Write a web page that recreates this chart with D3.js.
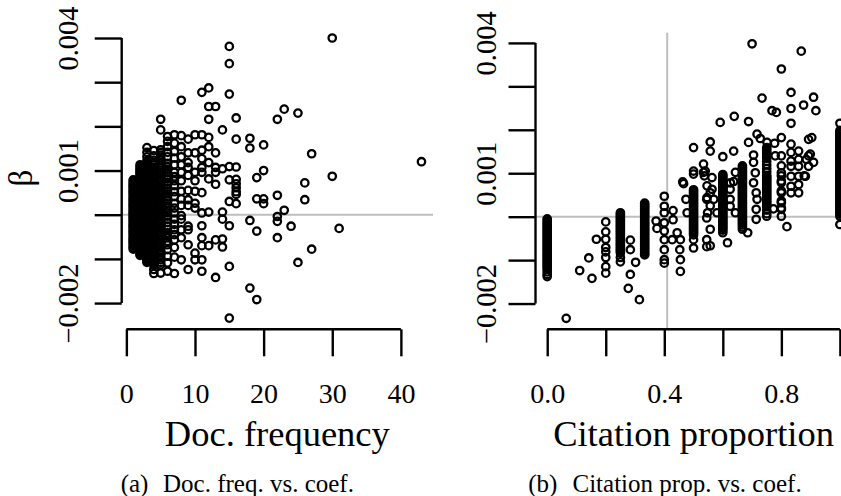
<!DOCTYPE html>
<html>
<head>
<meta charset="utf-8">
<script src="https://cdn.jsdelivr.net/npm/d3@7"></script>
<style>
  html, body { margin: 0; padding: 0; background: #fff; }
  svg { display: block; }
  text { font-family: "Liberation Serif", "Times New Roman", serif; fill: #000; }
</style>
</head>
<body>
<div id="chart"></div>
<script>
// β values in units of 0.001 (scaled by 1e-3 when drawn)

// (a) doc. frequency: [frequency, [β ...]]
const docFreqColumns = [
  [1, [0.79, 0.75, 0.71, 0.67, 0.64, 0.6, 0.56, 0.52, 0.49, 0.45, 0.41, 0.37, 0.34, 0.3, 0.26, 0.22, 0.19, 0.15, 0.11, 0.07, 0.04, 0.0,
       -0.04, -0.08, -0.11, -0.15, -0.19, -0.23, -0.26, -0.3, -0.34, -0.38, -0.41, -0.45, -0.49, -0.53, -0.56, -0.6, -0.63, -0.67, -0.71, -0.75, -0.78]],
  [2, [1.13, 1.09, 1.05, 1.01, 0.98, 0.94, 0.9, 0.86, 0.82, 0.78, 0.75, 0.71, 0.67, 0.63, 0.59, 0.55, 0.52, 0.48, 0.44, 0.4, 0.36, 0.32,
       0.29, 0.25, 0.21, 0.17, 0.13, 0.09, 0.06, 0.02, -0.02, -0.06, -0.1, -0.14, -0.17, -0.21, -0.25, -0.29, -0.33, -0.37, -0.4, -0.44,
       -0.48, -0.52, -0.56, -0.6, -0.63, -0.67, -0.71, -0.75, -0.79, -0.83, -0.86, -0.9, -0.92]],
  [3, [1.52, 1.41, 1.31, 1.22, 1.18, 1.14, 1.1, 1.06, 1.02, 0.98, 0.94, 0.9, 0.86, 0.82, 0.78, 0.74, 0.7, 0.66, 0.62, 0.58, 0.54, 0.5,
       0.46, 0.42, 0.38, 0.34, 0.3, 0.26, 0.22, 0.18, 0.14, 0.1, 0.06, 0.02, -0.02, -0.06, -0.1, -0.14, -0.18, -0.22, -0.26, -0.3, -0.34,
       -0.38, -0.42, -0.46, -0.5, -0.54, -0.58, -0.62, -0.66, -0.7, -0.74, -0.78, -0.82, -0.86, -0.9, -0.94, -0.98, -1.01, -1.05, -1.08]],
  [4, [1.45, 1.33, 1.23, 1.18, 1.13, 1.08, 1.04, 0.99, 0.95, 0.91, 0.87, 0.83, 0.79, 0.75, 0.71, 0.67, 0.63, 0.59, 0.55, 0.51, 0.47,
       0.43, 0.39, 0.35, 0.31, 0.27, 0.23, 0.19, 0.15, 0.11, 0.07, 0.03, -0.01, -0.05, -0.09, -0.13, -0.17, -0.21, -0.25, -0.29, -0.33,
       -0.37, -0.41, -0.45, -0.49, -0.53, -0.57, -0.61, -0.65, -0.69, -0.73, -0.77, -0.81, -0.85, -0.89, -0.93, -0.97, -1.01, -1.05,
       -1.1, -1.14, -1.24, -1.33]],
  [5, [2.16, 1.92, 1.47, 1.41, 1.35, 1.29, 1.23, 1.17, 1.12, 1.06, 1.01, 0.95, 0.9, 0.85, 0.8, 0.75, 0.7, 0.65, 0.6, 0.55, 0.5, 0.45,
       0.4, 0.35, 0.3, 0.25, 0.2, 0.15, 0.1, 0.05, 0.0, -0.05, -0.1, -0.15, -0.2, -0.25, -0.3, -0.35, -0.4, -0.45, -0.5, -0.55, -0.6,
       -0.65, -0.7, -0.75, -0.8, -0.86, -0.91, -0.97, -1.02, -1.08, -1.13, -1.32]],
  [6, [1.77, 1.66, 1.54, 1.41, 1.31, 1.16, 1.09, 1.03, 0.96, 0.88, 0.81, 0.74, 0.68, 0.6, 0.53, 0.47, 0.41, 0.33, 0.26, 0.2, 0.15, 0.1,
       0.04, -0.03, -0.1, -0.18, -0.26, -0.33, -0.41, -0.47, -0.52, -0.6, -0.68, -0.79, -0.94, -1.09, -1.28]],
  [7, [1.81, 1.62, 1.43, 1.28, 1.13, 0.96, 0.86, 0.77, 0.66, 0.52, 0.41, 0.26, 0.15, 0.04, -0.1, -0.22, -0.34, -0.45, -0.57, -0.74, -0.96, -1.33]],
  [8, [2.59, 1.79, 1.54, 1.31, 1.13, 0.96, 0.77, 0.53, 0.36, 0.21, -0.02, -0.1, -0.34, -0.52, -1.02]],
  [9, [1.71, 1.4, 1.18, 1.07, 0.89, 0.55, 0.34, 0.21, -0.26, -0.34, -0.68, -1.24]],
  [10, [1.81, 1.4, 0.96, 0.77, 0.53, 0.26, 0.15, -0.87, -1.02]],
  [11, [2.77, 1.81, 1.46, 1.27, 1.07, 0.96, 0.5, 0.04, -0.25, -0.52, -0.7, -1.02, -1.28]],
  [12, [2.87, 2.45, 2.16, 1.75, 1.54, 1.18, 0.81, 0.06, -0.7]],
  [13, [2.45, 1.4, 1.07, 0.96, 0.69, -0.57, -1.42]],
  [14, [1.92, 1.04, 0.06, -0.1, -0.55, -0.73]],
  [15, [3.81, 3.42, 2.73, 1.09, 0.79, 0.3, -0.25, -1.17, -2.34]],
  [16, [2.19, 1.71, 1.08, 0.8, 0.7, 0.61, 0.52, 0.46, 0.25]],
  [18, [1.73, 1.51, -0.13, -1.66]],
  [19, [0.84, 0.36, -0.37, -1.92]],
  [20, [1.58, 1.0, 0.36, 0.25]],
  [22, [2.16, 0.44, -0.04, -0.15, -0.52]],
  [23, [2.39, 0.1]],
  [24, [-0.26]],
  [25, [2.3, -1.08]],
  [26, [0.72, 0.34]],
  [27, [1.38, -0.78]],
  [30, [4.0, 0.87]],
  [31, [-0.31]],
  [43, [1.2]]
];
const docFreqPoints = [];

// (b) citation proportion: stacked columns [proportion, [β ...]] and loose points [proportion, β]
const citePropColumns = [
  [0, [-0.05, -0.09, -0.13, -0.17, -0.21, -0.25, -0.29, -0.33, -0.37, -0.41, -0.45, -0.49, -0.53, -0.57, -0.61, -0.65, -0.69, -0.73,
       -0.77, -0.81, -0.85, -0.89, -0.93, -0.97, -1.01, -1.05, -1.09, -1.13, -1.17, -1.21, -1.27, -1.33, -1.38]],
  [0.2, [-0.12, -0.35, -0.52, -0.71, -0.81, -0.94, -1.15, -1.3]],
  [0.25, [0.09, 0.05, 0.01, -0.03, -0.07, -0.11, -0.15, -0.19, -0.23, -0.27, -0.31, -0.35, -0.39, -0.43, -0.47, -0.51, -0.55, -0.59,
          -0.63, -0.67, -0.71, -0.75, -0.79, -0.83, -0.94, -1.04]],
  [0.333, [0.31, 0.27, 0.23, 0.19, 0.15, 0.11, 0.07, 0.03, -0.01, -0.05, -0.09, -0.13, -0.17, -0.21, -0.25, -0.29, -0.33, -0.37, -0.41,
           -0.45, -0.49, -0.53, -0.57, -0.61, -0.65, -0.69, -0.73, -0.77, -0.81, -0.85, -0.88]],
  [0.4, [0.47, 0.24, 0.09, -0.14, -0.33, -0.53, -0.76, -0.99, -1.07]],
  [0.5, [1.59, 1.05, 0.98, 0.62, 0.58, 0.54, 0.5, 0.46, 0.42, 0.38, 0.34, 0.3, 0.26, 0.22, 0.18, 0.14, 0.1, 0.06, 0.02, -0.02, -0.06,
         -0.1, -0.14, -0.18, -0.22, -0.26, -0.3, -0.34, -0.38, -0.42, -0.53, -0.72]],
  [0.6, [1.38, 0.97, 0.93, 0.89, 0.85, 0.81, 0.77, 0.73, 0.69, 0.65, 0.61, 0.57, 0.53, 0.49, 0.45, 0.41, 0.37, 0.33, 0.29, 0.25, 0.21,
         0.17, 0.13, 0.09, 0.05, 0.01, -0.03, -0.07, -0.11, -0.15, -0.19, -0.23, -0.27, -0.31, -0.37]],
  [0.667, [1.17, 1.13, 1.09, 1.05, 1.01, 0.97, 0.93, 0.89, 0.85, 0.81, 0.77, 0.73, 0.69, 0.65, 0.61, 0.57, 0.53, 0.49, 0.45, 0.41,
           0.37, 0.33, 0.29, 0.25, 0.21, 0.17, 0.13, 0.09, 0.05, 0.01, -0.03, -0.07, -0.11, -0.15, -0.19, -0.24, -0.29]],
  [0.75, [1.59, 1.55, 1.51, 1.47, 1.43, 1.39, 1.35, 1.27, 1.19, 1.11, 1.03, 0.95, 0.91, 0.87, 0.83, 0.79, 0.75, 0.71, 0.67, 0.63,
          0.59, 0.55, 0.51, 0.47, 0.43, 0.39, 0.35, 0.31, 0.27, 0.23, 0.15, 0.07, 0.01]],
  [0.8, [3.4, 1.82, 1.4, 1.17, 1.01, 0.94, 0.82, 0.78, 0.59, 0.55, 0.36, 0.32, 0.2, 0.17, 0.01]],
  [0.833, [2.86, 2.49, 2.15, 1.67, 1.48, 1.28, 1.16, 0.93, 0.7, 0.55]],
  [1.0, [2.15, 1.98, 1.94, 1.9, 1.86, 1.82, 1.78, 1.74, 1.7, 1.66, 1.62, 1.58, 1.54, 1.5, 1.46, 1.42, 1.38, 1.34, 1.3, 1.26, 1.22,
         1.18, 1.14, 1.1, 1.06, 1.02, 0.98, 0.94, 0.9, 0.86, 0.82, 0.78, 0.74, 0.7, 0.66, 0.62, 0.58, 0.54, 0.5, 0.46, 0.42, 0.38,
         0.34, 0.3, 0.26, 0.22, 0.18, 0.14, 0.1, 0.06, 0.01, -0.18]]
];
const citePropPoints = [
  [0.065, -2.34], [0.111, -1.24], [0.142, -0.95], [0.153, -1.42], [0.168, -0.52],
  [0.284, -0.54], [0.284, -0.76], [0.302, -1.05], [0.284, -1.33], [0.277, -1.65], [0.315, -1.91],
  [0.372, -0.1], [0.375, -0.27],
  [0.43, 0.14], [0.43, -0.07], [0.444, -0.37], [0.455, -0.53], [0.453, -0.76], [0.455, -0.99], [0.455, -1.26], [0.427, -0.53],
  [0.474, 0.4], [0.478, 0.09], [0.463, 0.8], [0.466, 0.76],
  [0.534, 1.21], [0.534, 1.02], [0.557, 1.72], [0.557, 1.51], [0.54, 1.05], [0.537, 0.94], [0.563, 0.9], [0.563, 0.63],
  [0.545, 0.4], [0.557, 0.55], [0.569, 0.4], [0.557, 0.25], [0.548, 0.09], [0.58, 0.09], [0.545, -0.03],
  [0.557, -0.29], [0.545, -0.53], [0.545, -0.69], [0.557, -0.67], [0.546, 0.71], [0.546, 0.44],
  [0.591, 2.17], [0.616, -0.6],
  [0.625, 0.63], [0.625, 0.4], [0.625, 0.24], [0.626, 0.78], [0.637, 1.51], [0.639, 2.31], [0.637, 0.81],
  [0.643, 0.09], [0.643, 1.02],
  [0.685, -0.37], [0.688, 2.19], [0.688, 1.71], [0.7, 3.98],
  [0.705, 1.42], [0.705, 1.25], [0.711, 1.01], [0.705, 0.78], [0.714, 0.55], [0.714, 0.17], [0.714, -0.06],
  [0.717, 0.4], [0.717, 1.9], [0.728, 1.8], [0.734, 2.73], [0.751, 1.71],
  [0.768, 2.44], [0.783, 2.4], [0.777, 1.69], [0.773, 0.18], [0.779, 1.4],
  [0.819, -0.23],
  [0.859, 1.51], [0.859, 1.32], [0.859, 1.16], [0.859, 0.93], [0.859, 0.74], [0.859, 0.55],
  [0.868, 3.81], [0.876, 2.57], [0.91, 2.75], [0.918, 2.44],
  [0.893, 1.78], [0.904, 1.82], [0.893, 1.4], [0.91, 1.25], [0.893, 1.16], [0.882, 0.93],
  [0.899, 1.44], [0.885, 1.32], [0.878, 0.94]
];

// Axis ticks and which of them carry a label
const betaTicks = [-0.002, -0.001, 0, 0.001, 0.002, 0.003, 0.004];
const betaTickLabels = { '-0.002': '\u22120.002', '0.001': '0.001', '0.004': '0.004' };
const docFreqTicks = [0, 10, 20, 30, 40];
const docFreqTickLabels = ['0', '10', '20', '30', '40'];
const citePropTicks = [0, 0.2, 0.4, 0.6, 0.8, 1.0];
const citePropTickLabels = ['0.0', '', '0.4', '', '0.8', ''];

// Gray reference lines
const betaRef = 0;
const citePropRef = 0.41;

const W = 841, H = 496;
const FONT = '"Liberation Serif", "Times New Roman", serif';
const svg = d3.select('#chart').append('svg')
  .attr('width', W)
  .attr('height', H);

/**
 * Draw one R-style scatter panel
 * @param {Object} cfg - panel layout and data
 */
function drawPanel(cfg) {
  const box = cfg.box;
  const pts = cfg.columns
    .flatMap(([x, bs]) => bs.map(b => [x, b * 1e-3]))
    .concat(cfg.points.map(([x, b]) => [x, b * 1e-3]));

  // R pads the data range by 4% on each side
  const pad = ext => {
    const d = (ext[1] - ext[0]) * 0.04;
    return [ext[0] - d, ext[1] + d];
  };
  const xScale = d3.scaleLinear().domain(pad(d3.extent(pts, d => d[0]))).range([box.left, box.right]);
  const yScale = d3.scaleLinear().domain(pad(d3.extent(pts, d => d[1]))).range([box.bottom, box.top]);

  const g = svg.append('g');

  // Reference lines (under the points)
  g.append('line')
    .attr('x1', box.left).attr('x2', box.right)
    .attr('y1', yScale(betaRef)).attr('y2', yScale(betaRef))
    .attr('stroke', '#bebebe').attr('stroke-width', 2);
  if (cfg.xRef !== undefined) {
    g.append('line')
      .attr('x1', xScale(cfg.xRef)).attr('x2', xScale(cfg.xRef))
      .attr('y1', box.top).attr('y2', box.bottom)
      .attr('stroke', '#bebebe').attr('stroke-width', 2);
  }

  // Points: open circles (pch = 1)
  g.append('g').selectAll('circle')
    .data(pts)
    .join('circle')
    .attr('cx', d => xScale(d[0]))
    .attr('cy', d => yScale(d[1]))
    .attr('r', 3.7)
    .attr('fill', 'none')
    .attr('stroke', '#000')
    .attr('stroke-width', 2.3);

  const tickLen = 27;

  // X axis
  const xAxisG = g.append('g')
    .attr('transform', `translate(0,${box.bottom})`)
    .call(d3.axisBottom(xScale)
      .tickValues(cfg.xTicks)
      .tickSize(tickLen)
      .tickSizeOuter(0)
      .tickFormat((d, i) => cfg.xTickLabels[i]))
    .call(a => a.select('.domain').remove());
  xAxisG.append('line')
    .attr('x1', xScale(cfg.xTicks[0])).attr('x2', xScale(cfg.xTicks[cfg.xTicks.length - 1]))
    .attr('stroke', '#000').attr('stroke-width', 2.4);
  xAxisG.selectAll('.tick line').attr('stroke', '#000').attr('stroke-width', 2.4);
  xAxisG.selectAll('.tick text')
    .attr('y', 73.7).attr('dy', null)
    .attr('font-size', 28)
    .attr('font-family', FONT)
    .attr('fill', '#000');

  // Y axis
  const yAxisG = g.append('g')
    .attr('transform', `translate(${box.left},0)`)
    .call(d3.axisLeft(yScale)
      .tickValues(betaTicks)
      .tickSize(tickLen)
      .tickSizeOuter(0)
      .tickFormat(d => betaTickLabels[String(+d.toFixed(3))] || ''))
    .call(a => a.select('.domain').remove());
  yAxisG.append('line')
    .attr('y1', yScale(betaTicks[0])).attr('y2', yScale(betaTicks[betaTicks.length - 1]))
    .attr('stroke', '#000').attr('stroke-width', 2.4);
  yAxisG.selectAll('.tick line').attr('stroke', '#000').attr('stroke-width', 2.4);
  yAxisG.selectAll('.tick text')
    .attr('x', null).attr('dy', null)
    .attr('text-anchor', 'middle')
    .attr('transform', `translate(${-cfg.yLabelOffset},0) rotate(-90)`)
    .attr('font-size', 28.5)
    .attr('font-family', FONT)
    .attr('fill', '#000');

  // Axis titles
  g.append('text')
    .attr('x', (box.left + box.right) / 2)
    .attr('y', 446)
    .attr('text-anchor', 'middle')
    .attr('font-size', 36.5)
    .text(cfg.xTitle);
  if (cfg.yTitle) {
    const cy = (box.top + box.bottom) / 2;
    g.append('text')
      .attr('transform', `translate(32,${cy}) rotate(-90)`)
      .attr('text-anchor', 'middle')
      .attr('font-size', 33)
      .text(cfg.yTitle);
  }

  // Sub-figure caption
  const cap = g.append('text')
    .attr('y', 492)
    .attr('font-size', 25);
  cap.append('tspan').attr('x', cfg.captionX).text(cfg.captionTag);
  cap.append('tspan').attr('x', cfg.captionTextX).text(cfg.caption);
}

drawPanel({
  box: { left: 121.7, right: 433, top: 26.8, bottom: 329.3 },
  columns: docFreqColumns,
  points: docFreqPoints,
  xTicks: docFreqTicks,
  xTickLabels: docFreqTickLabels,
  yLabelOffset: 44,
  xTitle: 'Doc. frequency',
  yTitle: '\u03b2',
  captionX: 120.7,
  captionTextX: 163,
  captionTag: '(a)',
  caption: 'Doc. freq. vs. coef.'
});

drawPanel({
  box: { left: 535.5, right: 851.6, top: 32.8, bottom: 329.3 },
  columns: citePropColumns,
  points: citePropPoints,
  xTicks: citePropTicks,
  xTickLabels: citePropTickLabels,
  xRef: citePropRef,
  yLabelOffset: 40,
  xTitle: 'Citation proportion',
  captionX: 528.3,
  captionTextX: 572.5,
  captionTag: '(b)',
  caption: 'Citation prop. vs. coef.'
});
</script>
</body>
</html>
